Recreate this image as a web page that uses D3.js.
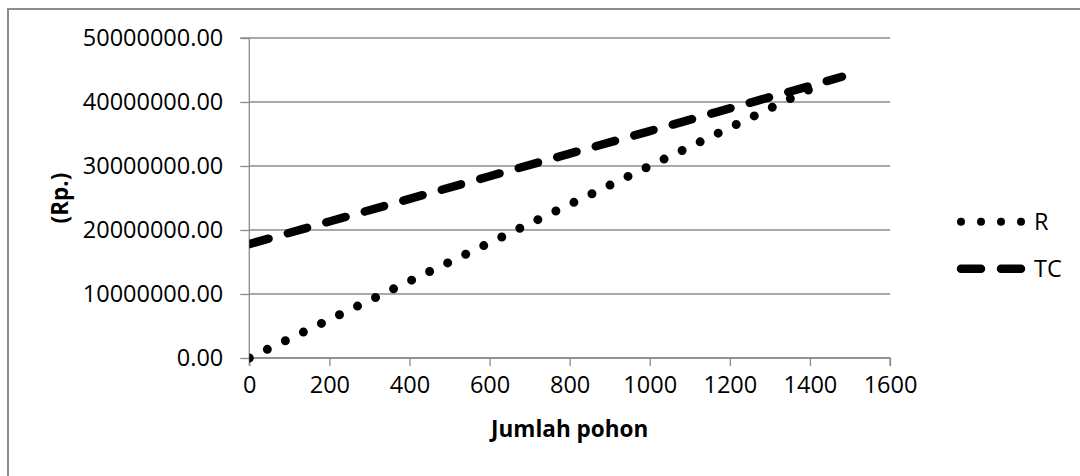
<!DOCTYPE html>
<html>
<head>
<meta charset="utf-8">
<script src="https://cdn.jsdelivr.net/npm/d3@7"></script>
<style>
  html, body { margin: 0; padding: 0; background: #fff; }
  svg { display: block; font-family: "Open Sans", "Noto Sans", sans-serif; }
</style>
</head>
<body>
<div id="chart"></div>
<script>
// jumlah pohon (x) untuk tiap seri
var pohonR = [0, 200, 400, 600, 800, 1000, 1200, 1400];
var pohonTC = [0, 200, 400, 600, 800, 1000, 1200, 1400, 1480];

// penerimaan (R) dan biaya total (TC), Rp.
var nilaiR = [0, 6000000, 12000000, 18000000, 24000000, 30000000, 36000000, 42000000];
var nilaiTC = [17800000, 21330000, 24860000, 28400000, 31930000, 35460000, 39000000, 42520000, 43940000];

var xTicks = [0, 200, 400, 600, 800, 1000, 1200, 1400, 1600];
var yTicks = [0, 10000000, 20000000, 30000000, 40000000, 50000000];

var seriesNames = ['R', 'TC'];

const width = 1080, height = 476;
const margin = { top: 38, right: 190, bottom: 118, left: 249.3 };

const svg = d3.select('#chart').append('svg')
    .attr('width', width)
    .attr('height', height);

// bingkai luar
svg.append('rect')
    .attr('x', 8).attr('y', 9)
    .attr('width', width + 20).attr('height', height + 20)
    .attr('fill', 'none')
    .attr('stroke', '#8c8c8c')
    .attr('stroke-width', 2);

const x = d3.scaleLinear().domain([0, 1600]).range([margin.left, width - margin.right]);
const y = d3.scaleLinear().domain([0, 50000000]).range([height - margin.bottom, margin.top]);

// garis grid
svg.append('g')
    .selectAll('line')
    .data(yTicks)
    .enter().append('line')
    .attr('x1', x(0)).attr('x2', x(1600))
    .attr('y1', d => y(d)).attr('y2', d => y(d))
    .attr('stroke', '#8c8c8c')
    .attr('stroke-width', 1.3);

// sumbu
const gx = svg.append('g')
    .attr('transform', `translate(0,${y(0)})`)
    .call(d3.axisBottom(x).tickValues(xTicks).tickSize(8).tickPadding(10).tickFormat(d3.format('d')));
const gy = svg.append('g')
    .attr('transform', `translate(${x(0)},0)`)
    .call(d3.axisLeft(y).tickValues(yTicks).tickSize(9).tickPadding(17).tickFormat(d3.format('.2f')));

[gx, gy].forEach(g => {
    g.selectAll('path, line').attr('stroke', '#8c8c8c').attr('stroke-width', 1.3);
    g.selectAll('text')
        .attr('fill', '#000')
        .style('font-family', '"Open Sans", "Noto Sans", sans-serif')
        .style('font-size', '23.5px');
});
gx.select('.domain').attr('d', `M${x(0)},8V0H${x(1600)}V8`);
gy.select('.domain').attr('d', `M-9,${y(50000000)}H0V${y(0)}`);

// judul sumbu
svg.append('text')
    .attr('x', (x(0) + x(1600)) / 2)
    .attr('y', 437)
    .attr('text-anchor', 'middle')
    .attr('font-weight', 'bold')
    .attr('font-size', '22.5px')
    .text('Jumlah pohon');

svg.append('text')
    .attr('transform', `translate(68,${(y(0) + y(50000000)) / 2}) rotate(-90)`)
    .attr('text-anchor', 'middle')
    .attr('font-weight', 'bold')
    .attr('font-size', '22.5px')
    .text('(Rp.)');

// clip area plot
svg.append('clipPath').attr('id', 'plot-clip')
    .append('rect')
    .attr('x', x(0)).attr('y', 0)
    .attr('width', x(1600) - x(0) + 40)
    .attr('height', y(0) + 20);

const line = d3.line().x(d => x(d[0])).y(d => y(d[1]));

const styles = {
    R: { dash: '0 20', width: 9 },
    TC: { dash: '20 20', width: 8.5 }
};

const dataR = pohonR.map((p, i) => [p, nilaiR[i]]);
const dataTC = pohonTC.map((p, i) => [p, nilaiTC[i]]);

const plot = svg.append('g').attr('clip-path', 'url(#plot-clip)');
[['R', dataR], ['TC', dataTC]].forEach(([name, data]) => {
    plot.append('path')
        .datum(data)
        .attr('d', line)
        .attr('fill', 'none')
        .attr('stroke', '#000')
        .attr('stroke-width', styles[name].width)
        .attr('stroke-linecap', 'round')
        .attr('stroke-dasharray', styles[name].dash);
});

// legenda
const legend = svg.append('g');
seriesNames.forEach((name, i) => {
    const ly = 221.7 + i * 47;
    legend.append('line')
        .attr('x1', 961).attr('x2', 1022)
        .attr('y1', ly).attr('y2', ly)
        .attr('stroke', '#000')
        .attr('stroke-width', name === 'R' ? 8 : 8.5)
        .attr('stroke-linecap', 'round')
        .attr('stroke-dasharray', styles[name].dash);
    legend.append('text')
        .attr('x', 1034)
        .attr('y', ly)
        .attr('dy', '0.35em')
        .attr('font-size', '23.5px')
        .text(name);
});
</script>
</body>
</html>
